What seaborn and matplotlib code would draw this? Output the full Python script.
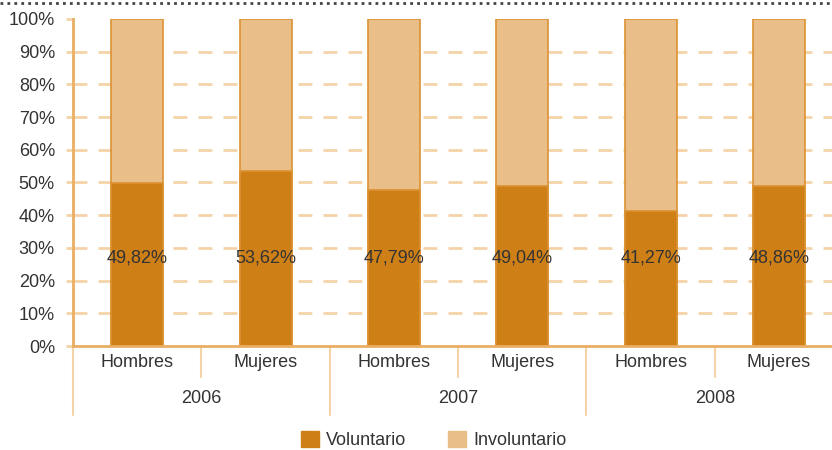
import pandas as pd
import numpy as np
import matplotlib
matplotlib.use('Agg')
import matplotlib.pyplot as plt
import matplotlib.transforms as mtransforms
import seaborn as sns

# ---- data ----
years = ['2006', '2007', '2008']
sexes = ['Hombres', 'Mujeres']
voluntario = [49.82, 53.62, 47.79, 49.04, 41.27, 48.86]
vol_labels = ['49,82%', '53,62%', '47,79%', '49,04%', '41,27%', '48,86%']

rows = []
i = 0
for y in years:
    for s in sexes:
        rows.append({'grupo': f'{y} {s}', 'year': y, 'sexo': s,
                     'voluntario': voluntario[i],
                     'involuntario': 100 - voluntario[i],
                     'total': 100.0, 'label': vol_labels[i]})
        i += 1
df = pd.DataFrame(rows)

# ---- style ----
sns.set_style('white')
plt.rcParams['font.family'] = ['Liberation Sans', 'DejaVu Sans']

c_vol = '#CE8017'
c_inv = '#E9BE88'
c_edge = '#DC9233'
c_axis = '#E9AE63'
c_grid = '#F4D3A9'
c_text = '#333333'
fs = 13

fig = plt.figure(figsize=(8.32, 4.5), dpi=100)
# axes runs a bit past the right edge of the figure (clipped, like the original)
ax = fig.add_axes([0.0877, 0.2311, 0.9257, 0.7267])

order = df['grupo'].tolist()
sns.barplot(data=df, x='grupo', y='total', order=order, color=c_inv,
            width=0.405, edgecolor=c_edge, linewidth=1.2, saturation=1,
            ax=ax, zorder=3)
sns.barplot(data=df, x='grupo', y='voluntario', order=order, color=c_vol,
            width=0.405, edgecolor=c_edge, linewidth=1.2, saturation=1,
            ax=ax, zorder=4)

ax.set_xlim(-0.5, len(order) - 0.5)
ax.set_ylim(0, 100)
ax.set_yticks(np.arange(0, 101, 10))
ax.set_yticklabels([f'{v}%' for v in range(0, 101, 10)], fontsize=fs, color=c_text)
ax.set_xticks(range(len(order)))
ax.set_xticklabels(df['sexo'], fontsize=fs, color=c_text)
ax.set_xlabel('')
ax.set_ylabel('')

# dashed grid 10..90
for v in range(10, 100, 10):
    ax.axhline(v, color=c_grid, lw=2, dashes=(5, 4), zorder=1)

for side in ['top', 'right']:
    ax.spines[side].set_visible(False)
ax.spines['left'].set_color(c_axis)
ax.spines['left'].set_linewidth(2)
ax.spines['bottom'].set_color(c_axis)
ax.spines['bottom'].set_linewidth(2)
ax.spines['bottom'].set_zorder(5)
ax.tick_params(axis='y', length=5, width=2, color=c_grid, pad=8, left=True)
ax.tick_params(axis='x', length=0, pad=6)

# value labels inside voluntario bars
for k, lab in enumerate(df['label']):
    ax.text(k, 27, lab, ha='center', va='center', fontsize=fs,
            color=c_text, zorder=6)

# category / year separators below axis
trans = mtransforms.blended_transform_factory(ax.transData, ax.transAxes)
for j in range(len(years)):
    mid = 2 * j + 0.5
    ax.plot([mid, mid], [0, -0.095], transform=trans, color=c_grid,
            lw=1.5, clip_on=False)
    ax.text(mid, -0.16, years[j], transform=trans, ha='center', va='center',
            fontsize=fs, color=c_text)
for b in [-0.5, 1.5, 3.5]:
    ax.plot([b, b], [0, -0.21], transform=trans, color=c_grid,
            lw=1.5, clip_on=False)

# legend
handles = [plt.Rectangle((0, 0), 1, 1, color=c_vol),
           plt.Rectangle((0, 0), 1, 1, color=c_inv)]
leg = fig.legend(handles, ['Voluntario', 'Involuntario'], loc='center',
                 bbox_to_anchor=(0.521, 0.022), ncol=2, frameon=False,
                 fontsize=fs, handlelength=1.0, handleheight=1.0,
                 handletextpad=0.4, columnspacing=2.3)
for t in leg.get_texts():
    t.set_color(c_text)

# dotted line at top
fig.add_artist(plt.Line2D([0.0, 1.0], [0.993, 0.993], transform=fig.transFigure,
                          color='#444444', lw=2, linestyle=(0, (1, 1.5))))

plt.savefig('out.png', dpi=100)
